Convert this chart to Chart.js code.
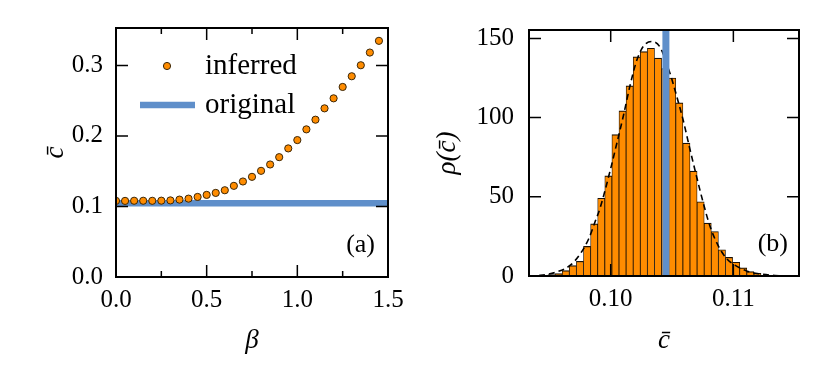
<!DOCTYPE html>
<html>
<head>
<meta charset="utf-8">
<script src="https://cdn.jsdelivr.net/npm/chart.js@4"></script>
<style>
  body { margin: 0; background: #fff; }
  #wrap { position: relative; width: 830px; height: 386px; }
  canvas { position: absolute; top: 0; }
  #left { left: 0; }
  #right { left: 415px; }
</style>
</head>
<body>
<div id="wrap">
  <canvas id="left" width="415" height="386"></canvas>
  <canvas id="right" width="415" height="386"></canvas>
</div>
<script>
// panel (a): inferred c-bar against beta
const betaVals = [0, 0.05, 0.1, 0.15, 0.2, 0.25, 0.3, 0.35, 0.4, 0.45, 0.5, 0.55, 0.6, 0.65, 0.7,
                  0.75, 0.8, 0.85, 0.9, 0.95, 1.0, 1.05, 1.1, 1.15, 1.2, 1.25, 1.3, 1.35, 1.4, 1.45];
const inferredVals = [0.1079, 0.1079, 0.1081, 0.1081, 0.1080, 0.1082, 0.1086, 0.1097, 0.1111, 0.1135,
                      0.1164, 0.1192, 0.1230, 0.1292, 0.1354, 0.1420, 0.1505, 0.1595, 0.1699, 0.1823,
                      0.1941, 0.2093, 0.2230, 0.2391, 0.2533, 0.2694, 0.2846, 0.3002, 0.3182, 0.3348];
const originalC = 0.1045;
const originalBetaSpan = [0, 1.5];
const xTicksA = [0, 0.5, 1.0, 1.5];
const xMinorA = [0.25, 0.75, 1.25];
const yTicksA = [0, 0.1, 0.2, 0.3];

// panel (b): histogram of c-bar
const binCenters = [0.094022, 0.094601, 0.095179, 0.095758, 0.096337, 0.096916, 0.097494, 0.098073,
                    0.098652, 0.099230, 0.099809, 0.100388, 0.100966, 0.101545, 0.102124, 0.102703,
                    0.103281, 0.103860, 0.104439, 0.105017, 0.105596, 0.106175, 0.106753, 0.107332,
                    0.107911, 0.108490, 0.109068, 0.109647, 0.110226, 0.110804, 0.111383, 0.111962, 0.112540];
const binHeights = [0.2, 0.4, 0.9, 1.5, 3.4, 6.5, 9.3, 18.7, 32.9, 49.1, 63.2, 89.2, 104.3, 120.1, 138.3, 141.7,
                    143.8, 137.5, 131, 125, 109.3, 83.9, 66.2, 46.9, 33.4, 28.1, 16.6, 11.8, 8.7, 5.1, 2.8, 1.7, 0.5];
const fitX = [0.09334, 0.09426, 0.09562, 0.09671, 0.09752, 0.09821, 0.09874, 0.09913, 0.09994, 0.10049,
              0.10103, 0.10157, 0.10212, 0.10266, 0.10334, 0.10402, 0.10483, 0.10538, 0.10592, 0.10646,
              0.10701, 0.10755, 0.10809, 0.10877, 0.10945, 0.10999, 0.11108, 0.11217, 0.11339, 0.11461];
const fitY = [0.05, 0.4, 2.6, 6.8, 14, 23.5, 34.5, 42.8, 66, 83.5,
              101, 120, 136, 145, 148, 144.5, 128, 113.5, 98, 80,
              62.5, 46, 31.5, 19, 11, 7.5, 3.2, 1.3, 0.3, 0.05];
const xTicksB = [0.10, 0.11];
const yTicksB = [0, 50, 100, 150];

const ORANGE = "#ff8c00";
const BLUE = "#5f8fca";
const SERIF = "'Liberation Serif', serif";
const tickFont = { family: SERIF, size: 25 };
const titleFont = { family: SERIF, size: 27, style: "italic" };

// box with inward tick marks on all four sides
const frame = {
    id: "frame",
    afterDatasetsDraw(chart, args, opts) {
        const { ctx, chartArea: a, scales } = chart;
        const x = scales.x, y = scales.y;
        ctx.save();
        ctx.strokeStyle = "#000";
        ctx.lineWidth = 1.5;
        ctx.beginPath();
        const vtick = (v, len) => {
            const px = x.getPixelForValue(v);
            ctx.moveTo(px, a.bottom); ctx.lineTo(px, a.bottom - len);
            ctx.moveTo(px, a.top); ctx.lineTo(px, a.top + len);
        };
        const htick = (v, len) => {
            const py = y.getPixelForValue(v);
            ctx.moveTo(a.left, py); ctx.lineTo(a.left + len, py);
            ctx.moveTo(a.right, py); ctx.lineTo(a.right - len, py);
        };
        opts.xMajor.forEach((v) => vtick(v, 12));
        (opts.xMinor || []).forEach((v) => vtick(v, 6));
        opts.yMajor.forEach((v) => htick(v, 12));
        ctx.stroke();
        ctx.lineWidth = 2;
        ctx.strokeRect(a.left, a.top, a.width, a.height);
        ctx.restore();
    },
};

// panel letter and (optionally) the legend
const panelText = {
    id: "panelText",
    afterDraw(chart, args, opts) {
        const { ctx, chartArea: a } = chart;
        ctx.save();
        ctx.fillStyle = "#000";
        ctx.font = "26px " + SERIF;
        ctx.textAlign = "right";
        ctx.textBaseline = "middle";
        ctx.fillText(opts.label, a.right - opts.dx, a.bottom - 32);
        if (opts.legend) {
            const pts = chart.data.datasets[0];
            const line = chart.data.datasets[1];
            ctx.beginPath();
            ctx.arc(a.left + 51, a.top + 38, pts.pointRadius, 0, Math.PI * 2);
            ctx.fillStyle = pts.backgroundColor;
            ctx.fill();
            ctx.lineWidth = pts.borderWidth;
            ctx.strokeStyle = pts.borderColor;
            ctx.stroke();
            ctx.beginPath();
            ctx.moveTo(a.left + 24, a.top + 77);
            ctx.lineTo(a.left + 79, a.top + 77);
            ctx.lineWidth = line.borderWidth;
            ctx.strokeStyle = line.borderColor;
            ctx.stroke();
            ctx.fillStyle = "#000";
            ctx.font = "29px " + SERIF;
            ctx.textAlign = "left";
            ctx.textBaseline = "alphabetic";
            ctx.fillText(pts.label, a.left + 89, a.top + 46);
            ctx.fillText(line.label, a.left + 89, a.top + 85);
        }
        ctx.restore();
    },
};

function axis(min, max, ticks, fmt, size, title, titlePad, tickPad) {
    const horizontal = size.height !== undefined;
    return {
        type: "linear",
        min: min,
        max: max,
        offset: false,
        afterBuildTicks: (s) => { s.ticks = ticks.map((v) => ({ value: v })); },
        afterFit: (s) => {
            if (horizontal) s.height = size.height; else s.width = size.width;
        },
        grid: { display: false, drawTicks: false },
        border: { display: false },
        ticks: {
            font: tickFont, color: "#000", padding: tickPad,
            maxRotation: 0, autoSkip: false,
            callback: (v) => v.toFixed(fmt),
        },
        title: { display: true, text: title, font: titleFont, color: "#000", padding: titlePad },
    };
}

new Chart(document.getElementById("left"), {
    type: "scatter",
    data: {
        datasets: [
            {
                label: "inferred",
                data: betaVals.map((b, i) => ({ x: b, y: inferredVals[i] })),
                backgroundColor: ORANGE,
                borderColor: "#3a2608",
                borderWidth: 1,
                pointRadius: 3.6,
            },
            {
                label: "original",
                data: originalBetaSpan.map((b) => ({ x: b, y: originalC })),
                showLine: true,
                borderColor: BLUE,
                borderWidth: 6.5,
                borderCapStyle: "butt",
                pointRadius: 0,
            },
        ],
    },
    options: {
        responsive: false,
        animation: false,
        devicePixelRatio: 1,
        layout: { padding: { top: 28, right: 27, left: 0, bottom: 0 } },
        plugins: {
            legend: { display: false },
            tooltip: { enabled: false },
            frame: { xMajor: xTicksA, xMinor: xMinorA, yMajor: yTicksA },
            panelText: { label: "(a)", dx: 13, legend: true },
        },
        scales: {
            x: axis(0, 1.5, xTicksA, 1, { height: 109 }, "β", { top: 0, bottom: 29 }, 8),
            y: axis(0, 0.353, yTicksA, 1, { width: 116 }, "c\u0304", { top: 40, bottom: 0 }, 13),
        },
    },
    plugins: [frame, panelText],
});

new Chart(document.getElementById("right"), {
    type: "bar",
    data: {
        datasets: [
            {
                type: "line",
                label: "original",
                data: [0, 155.3].map((v) => ({ x: originalC, y: v })),
                borderColor: BLUE,
                borderWidth: 7,
                borderCapStyle: "butt",
                pointRadius: 0,
            },
            {
                type: "line",
                label: "fit",
                data: fitX.map((c, i) => ({ x: c, y: fitY[i] })),
                borderColor: "#000",
                borderWidth: 1.6,
                borderDash: [6, 4],
                cubicInterpolationMode: "monotone",
                pointRadius: 0,
            },
            {
                type: "bar",
                label: "hist",
                data: binCenters.map((c, i) => ({ x: c, y: binHeights[i] })),
                backgroundColor: ORANGE,
                borderColor: "#1a1005",
                borderWidth: { top: 1.2, left: 0.8, right: 0.8, bottom: 0 },
                barPercentage: 1,
                categoryPercentage: 1,
            },
        ],
    },
    options: {
        responsive: false,
        animation: false,
        devicePixelRatio: 1,
        layout: { padding: { top: 29, right: 31, left: 0, bottom: 0 } },
        plugins: {
            legend: { display: false },
            tooltip: { enabled: false },
            frame: { xMajor: xTicksB, yMajor: yTicksB },
            panelText: { label: "(b)", dx: 11, legend: false },
        },
        scales: {
            x: axis(0.09334, 0.11535, xTicksB, 2, { height: 110 }, "c\u0304", { top: 0, bottom: 29 }, 8),
            y: axis(0, 155.3, yTicksB, 0, { width: 114 }, "ρ(c\u0304)", { top: 17, bottom: 0 }, 15),
        },
    },
    plugins: [frame, panelText],
});
</script>
</body>
</html>
